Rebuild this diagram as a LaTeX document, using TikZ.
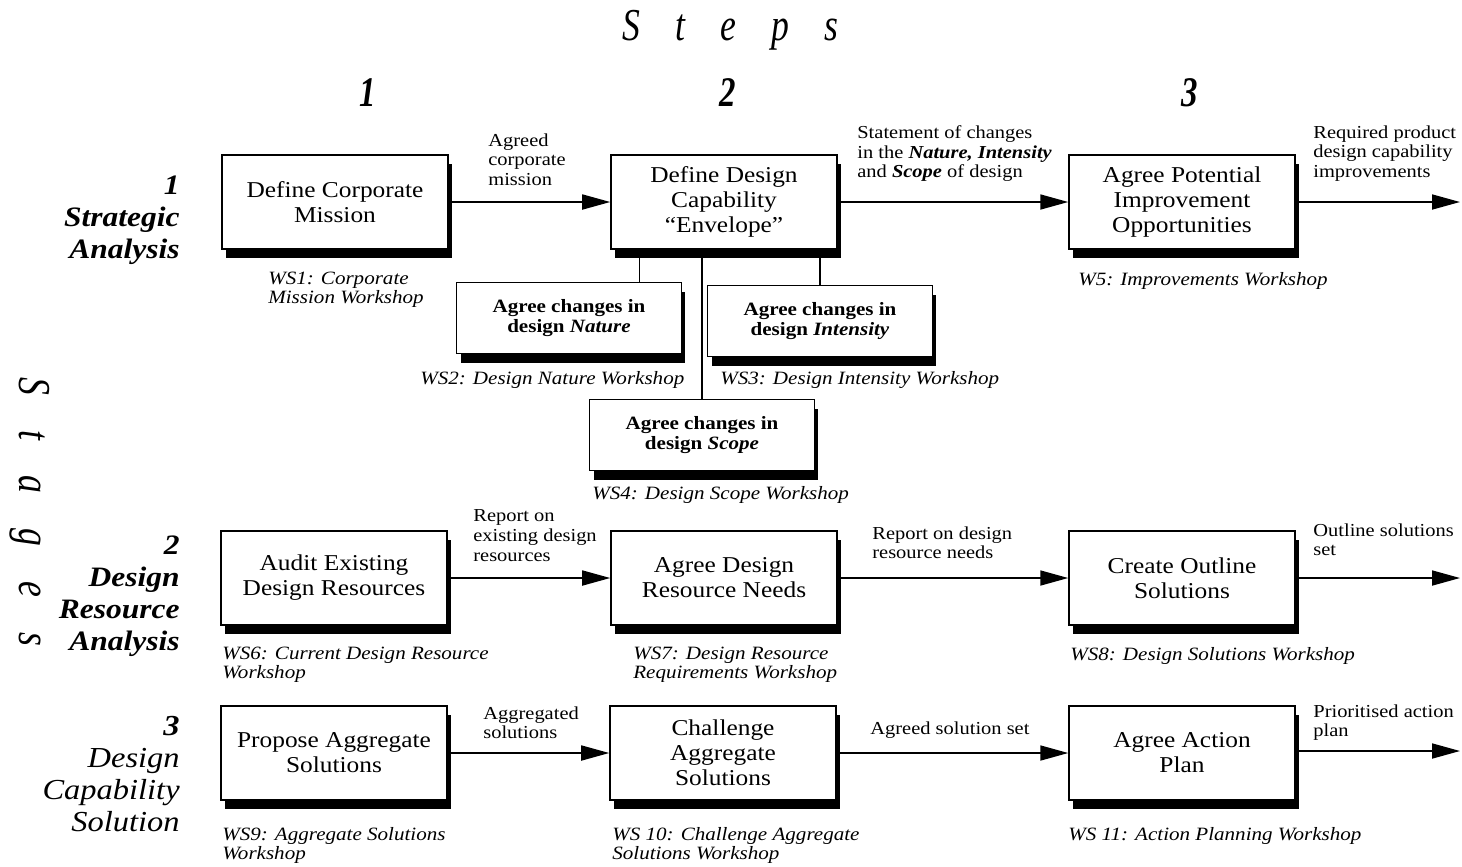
\documentclass[tikz,border=0pt]{standalone}
\usepackage{fontspec}
\setmainfont{Liberation Serif}[FakeStretch=1.12]
\newfontfamily\condserif{Liberation Serif}[FakeStretch=0.78]
\usetikzlibrary{arrows.meta,shadows,positioning}

\newcommand{\bxfont}{\fontsize{12.9}{14.2}\selectfont}
\newcommand{\subbxfont}{\fontsize{10.7}{11.5}\selectfont\bfseries}
\newcommand{\lblfont}{\fontsize{10.4}{11.3}\selectfont}
\newcommand{\wsfont}{\fontsize{10.7}{10.6}\selectfont\itshape}
\newcommand{\stgfont}{\fontsize{16}{18.2}\selectfont\bfseries\itshape}
\newcommand{\hdfont}{\condserif\fontsize{26}{26}\selectfont\itshape}

\tikzset{
  procbox/.style={draw, line width=0.9pt, fill=white, align=center,
    minimum width=4.52cm, minimum height=1.88cm, inner sep=2pt, font=\bxfont,
    drop shadow={shadow xshift=0.08cm, shadow yshift=-0.18cm, fill=black, opacity=1}},
  subbox/.style={procbox, minimum width=4.5cm, minimum height=1.42cm, font=\subbxfont},
  flow/.style={line width=1pt, -{Triangle[length=0.56cm,width=0.3cm]}},
  tap/.style={line width=0.8pt},
  note/.style={anchor=north west, align=left, inner sep=0pt, font=\lblfont},
  wslabel/.style={note, font=\wsfont},
  stage/.style={anchor=north east, align=right, inner sep=0pt, font=\stgfont},
  stepnum/.style={font=\condserif\fontsize{24}{24}\selectfont\bfseries\itshape},
}

\begin{document}
\begin{tikzpicture}[x=0.02cm, y=-0.02cm]
\fill[white] (0,0) rectangle (1462,866);
\useasboundingbox (0,0) rectangle (1462,866);

% headings
\node[font=\hdfont] (steps) at (730,30) {S\hspace{20pt}t\hspace{20pt}e\hspace{20pt}p\hspace{20pt}s};
\node[font=\hdfont, rotate=-90] (stages) at (30,512) {S\hspace{20pt}t\hspace{20pt}a\hspace{20pt}g\hspace{20pt}e\hspace{20pt}s};
\foreach \n/\x in {1/368,2/728,3/1190}{
  \node[stepnum] (step\n) at (\x,93) {\n};
}
\node[stage] (stage1) at (180,176) {1\\Strategic\\Analysis};
\node[stage] (stage2) at (180,536) {2\\Design\\Resource\\Analysis};
\node[stage, font=\fontsize{16.5}{18.2}\selectfont\itshape] (stage3) at (180,716) {\textbf{3}\\Design\\Capability\\Solution};

% stage 1
\node[procbox] (mission) at (335,202) {Define Corporate\\Mission};
\node[procbox] (envelope) at (724,202) {Define Design\\Capability\\``Envelope''};
\node[procbox] (improve) at (1182,202) {Agree Potential\\Improvement\\Opportunities};
\node[subbox] (nature) at (569,318) {Agree changes in\\design \textit{Nature}};
\node[subbox] (intensity) at (820,321) {Agree changes in\\design \textit{Intensity}};
\node[subbox] (scope) at (702,435) {Agree changes in\\design \textit{Scope}};
\coordinate (out1) at (1460,202);

\draw[flow] (mission) -- (envelope);
\draw[flow] (envelope) -- (improve);
\draw[flow] (improve) -- (out1);
\draw[tap] ([xshift=0.58cm]envelope.south west) -- ([xshift=0.58cm]envelope.south west |- nature.north);
\draw[tap] (scope.north |- envelope.south) -- (scope.north);
\draw[tap] (intensity.north |- envelope.south) -- (intensity.north);

\node[note] (agreed) at (488,133) {Agreed\\corporate\\mission};
\node[note] (statement) at (857,125) {Statement of changes\\in the \textbf{\textit{Nature, Intensity}}\\and \textbf{\textit{Scope}} of design};
\node[note] (required) at (1313,125) {Required product\\design capability\\improvements};
\node[wslabel] (ws1) at (268,272) {WS1: Corporate\\Mission Workshop};
\node[wslabel] (ws2) at (420,371) {WS2: Design Nature Workshop};
\node[wslabel] (ws3) at (720,371) {WS3: Design Intensity Workshop};
\node[wslabel] (ws4) at (592,486) {WS4: Design Scope Workshop};
\node[wslabel] (ws5) at (1078,272) {W5: Improvements Workshop};

% stage 2
\node[procbox] (audit) at (334,578) {Audit Existing\\Design Resources};
\node[procbox] (needs) at (724,578) {Agree Design\\Resource Needs};
\node[procbox] (outline) at (1182,578) {Create Outline\\Solutions};
\coordinate (out2) at (1460,578);

\draw[flow] (audit) -- (needs);
\draw[flow] (needs) -- (outline);
\draw[flow] (outline) -- (out2);

\node[note] (report1) at (473,509) {Report on\\existing design\\resources};
\node[note] (report2) at (872,526) {Report on design\\resource needs};
\node[note] (solset) at (1313,523) {Outline solutions\\set};
\node[wslabel] (ws6) at (222,647) {WS6: Current Design Resource\\Workshop};
\node[wslabel] (ws7) at (633,647) {WS7: Design Resource\\Requirements Workshop};
\node[wslabel] (ws8) at (1070,647) {WS8: Design Solutions Workshop};

% stage 3
\node[procbox] (propose) at (334,753) {Propose Aggregate\\Solutions};
\node[procbox] (challenge) at (723,753) {Challenge\\Aggregate\\Solutions};
\node[procbox] (action) at (1182,753) {Agree Action\\Plan};
\coordinate (out3) at (1460,751);

\draw[flow] (propose) -- (challenge);
\draw[flow] (challenge) -- (action);
\draw[flow] (action) -- (out3 -| action.east) -- (out3);

\node[note] (aggregated) at (483,706) {Aggregated\\solutions};
\node[note] (agreedset) at (870,721) {Agreed solution set};
\node[note] (prioritised) at (1313,704) {Prioritised action\\plan};
\node[wslabel] (ws9) at (222,827) {WS9: Aggregate Solutions\\Workshop};
\node[wslabel] (ws10) at (612,827) {WS 10: Challenge Aggregate\\Solutions Workshop};
\node[wslabel] (ws11) at (1068,827) {WS 11: Action Planning Workshop};
\end{tikzpicture}
\end{document}
